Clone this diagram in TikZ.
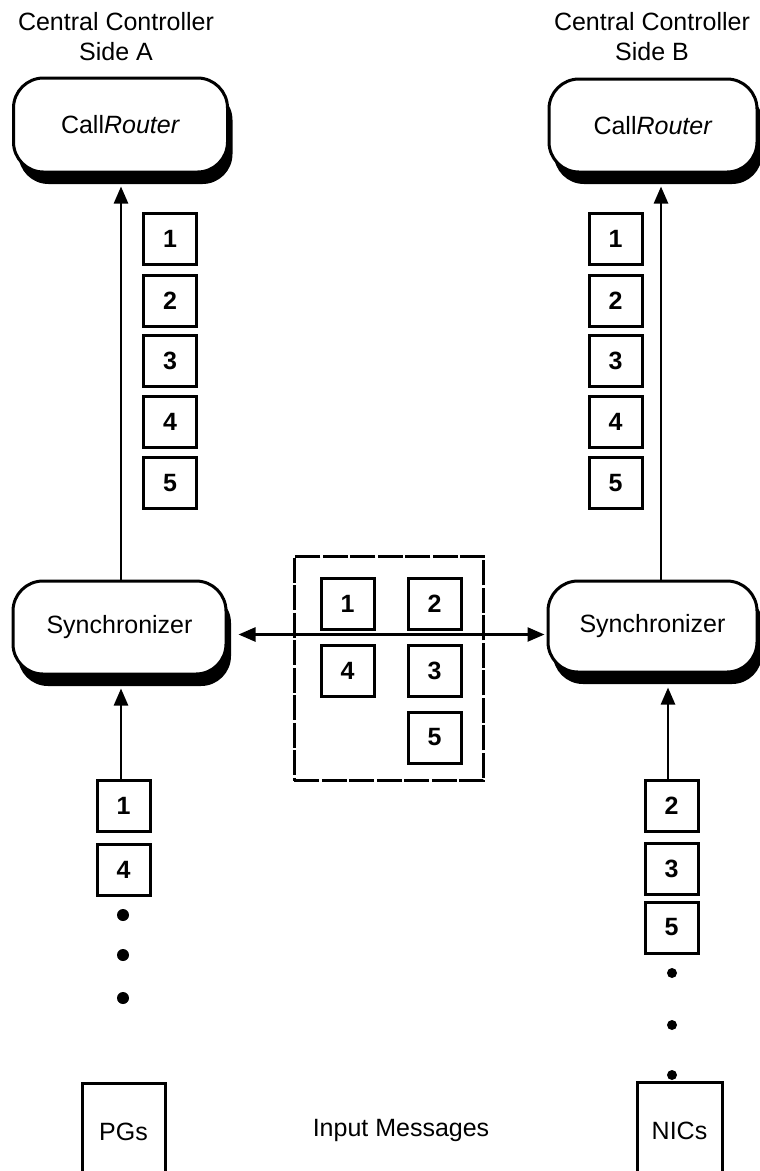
\documentclass[tikz,border=0pt]{standalone}
\usepackage{fontspec}
\setmainfont{Liberation Sans}
\usetikzlibrary{arrows.meta,shadows}
\begin{document}
\begin{tikzpicture}[x=1pt,y=-1pt,
  every node/.style={font=\fontsize{25}{30}\selectfont},
  rbox/.style={draw, line width=3pt, rounded corners=30pt, fill=white,
    inner sep=0pt,
    drop shadow={shadow xshift=5pt, shadow yshift=-12pt, fill=black, opacity=1}},
  msg/.style={draw, line width=3pt, fill=white, inner sep=0pt,
    minimum width=53pt, minimum height=51pt, font=\fontsize{25}{30}\selectfont\bfseries},
  src/.style={draw, line width=3pt, inner sep=0pt, minimum width=83pt, minimum height=97pt},
  arr/.style={line width=2.5pt, -{Triangle[length=17pt,width=14pt]}},
  darr/.style={line width=2.5pt, {Triangle[length=17pt,width=14pt]}-{Triangle[length=17pt,width=14pt]}},
  dot/.style={circle, fill=black, inner sep=0pt, minimum size=#1},
  ttl/.style={align=center, inner sep=0pt, anchor=north}
]
\useasboundingbox (0,0) rectangle (760,1171);
\clip (0,0) rectangle (760,1171);

% titles
\node[ttl] (tA) at (116,12) {Central Controller\\Side A};
\node[ttl] (tB) at (652,12) {Central Controller\\Side B};

% rounded boxes
\node[rbox, minimum width=214pt, minimum height=94pt] (crA) at (120.5,125) {Call\textit{Router}};
\node[rbox, minimum width=208pt, minimum height=93pt] (crB) at (653,125.5) {Call\textit{Router}};
\node[rbox, minimum width=213pt, minimum height=93pt] (syA) at (119.5,627.5) {Synchronizer};
\node[rbox, minimum width=209pt, minimum height=91pt] (syB) at (652.5,626.5) {Synchronizer};

% column coordinates
\coordinate (colA) at (121,0);
\coordinate (colB) at (661,0);
\coordinate (colC) at (668,0);

% vertical arrows to CallRouters
\draw[arr] (syA.north -| colA) -- ([yshift=-13pt]crA.south -| colA);
\draw[arr] (syB.north -| colB) -- ([yshift=-13pt]crB.south -| colB);

% stacks beside up arrows
\foreach \n/\y in {1/239,2/300.5,3/361,4/421.5,5/483}{
  \node[msg] (a\n) at (170,\y) {\n};
  \node[msg] (b\n) at (615.5,\y) {\n};
}

% middle dashed box
\node[draw, line width=3pt, dash pattern=on 25pt off 2.5pt, inner sep=0pt,
  minimum width=189.5pt, minimum height=224.5pt] (mid) at (389,668.5) {};
\node[msg] (m1) at (347.5,603.5) {1};
\node[msg] (m2) at (434.5,603.5) {2};
\node[msg] (m4) at (347.5,671) {4};
\node[msg] (m3) at (434.5,671) {3};
\node[msg] (m5) at (434.5,737.5) {5};

% horizontal double arrow
\draw[darr] ([xshift=11pt,yshift=-7pt]syA.east) -- ([xshift=-2pt,yshift=-8pt]syB.west);

% bottom left stack
\node[msg] (l1) at (123.5,805.5) {1};
\node[msg] (l4) at (123.5,869.5) {4};
\node[dot=12pt] (ld1) at (123,915) {};
\node[dot=12pt] (ld2) at (123,955) {};
\node[dot=12pt] (ld3) at (123,998) {};
\draw[arr] (l1.north -| colA) -- ([yshift=-13pt]syA.south -| colA);

% bottom right stack
\node[msg] (r2) at (671.5,806) {2};
\node[msg] (r3) at (671.5,869) {3};
\node[msg] (r5) at (671.5,927.5) {5};
\node[dot=10pt] (rd1) at (672,973) {};
\node[dot=10pt] (rd2) at (672,1025) {};
\node[dot=10pt] (rd3) at (672,1075) {};
\draw[arr] (r2.north -| colC) -- ([yshift=-14pt]syB.south -| colC);

% sources
\node[src] (pg) at (123.5,1131.5) {PGs};
\node[src, minimum width=85pt] (nic) at (679.5,1130.5) {NICs};
\node (inp) at (401,1130) {Input Messages};
\end{tikzpicture}
\end{document}
